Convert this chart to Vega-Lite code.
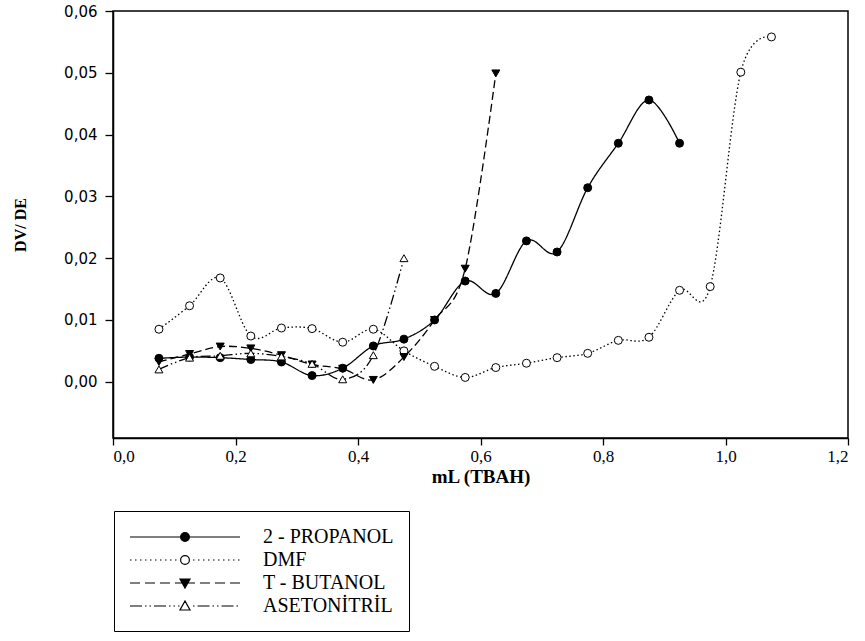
{
  "$schema": "https://vega.github.io/schema/vega-lite/v6.json",
  "autosize": {"type": "none"},
  "padding": {"left": 113, "top": 11, "right": 17, "bottom": 203},
  "width": 735,
  "height": 427,
  "background": "white",
  "config": {
    "view": {"stroke": "black", "strokeWidth": 1.5},
    "axis": {"grid": false, "domainColor": "black", "domainWidth": 1.5, "tickColor": "black", "tickWidth": 1.3, "labelColor": "black", "titleColor": "black"},
    "axisX": {"labelFont": "Liberation Serif", "titleFont": "Liberation Serif"},
    "axisY": {"labelFont": "DejaVu Sans", "titleFont": "Liberation Serif"}
  },
  "data": {
    "values": [
      {"solvent": "2 - PROPANOL", "ml": 0.075, "dvde": 0.0038},
      {"solvent": "2 - PROPANOL", "ml": 0.125, "dvde": 0.0040},
      {"solvent": "2 - PROPANOL", "ml": 0.175, "dvde": 0.0039},
      {"solvent": "2 - PROPANOL", "ml": 0.225, "dvde": 0.0036},
      {"solvent": "2 - PROPANOL", "ml": 0.275, "dvde": 0.0032},
      {"solvent": "2 - PROPANOL", "ml": 0.325, "dvde": 0.0010},
      {"solvent": "2 - PROPANOL", "ml": 0.375, "dvde": 0.0022},
      {"solvent": "2 - PROPANOL", "ml": 0.425, "dvde": 0.0058},
      {"solvent": "2 - PROPANOL", "ml": 0.475, "dvde": 0.0069},
      {"solvent": "2 - PROPANOL", "ml": 0.525, "dvde": 0.0100},
      {"solvent": "2 - PROPANOL", "ml": 0.575, "dvde": 0.0163},
      {"solvent": "2 - PROPANOL", "ml": 0.625, "dvde": 0.0143},
      {"solvent": "2 - PROPANOL", "ml": 0.675, "dvde": 0.0228},
      {"solvent": "2 - PROPANOL", "ml": 0.725, "dvde": 0.0210},
      {"solvent": "2 - PROPANOL", "ml": 0.775, "dvde": 0.0314},
      {"solvent": "2 - PROPANOL", "ml": 0.825, "dvde": 0.0386},
      {"solvent": "2 - PROPANOL", "ml": 0.875, "dvde": 0.0456},
      {"solvent": "2 - PROPANOL", "ml": 0.925, "dvde": 0.0386},
      {"solvent": "DMF", "ml": 0.075, "dvde": 0.0085},
      {"solvent": "DMF", "ml": 0.125, "dvde": 0.0123},
      {"solvent": "DMF", "ml": 0.175, "dvde": 0.0168},
      {"solvent": "DMF", "ml": 0.225, "dvde": 0.0074},
      {"solvent": "DMF", "ml": 0.275, "dvde": 0.0087},
      {"solvent": "DMF", "ml": 0.325, "dvde": 0.0086},
      {"solvent": "DMF", "ml": 0.375, "dvde": 0.0064},
      {"solvent": "DMF", "ml": 0.425, "dvde": 0.0085},
      {"solvent": "DMF", "ml": 0.475, "dvde": 0.0050},
      {"solvent": "DMF", "ml": 0.525, "dvde": 0.0025},
      {"solvent": "DMF", "ml": 0.575, "dvde": 0.0007},
      {"solvent": "DMF", "ml": 0.625, "dvde": 0.0023},
      {"solvent": "DMF", "ml": 0.675, "dvde": 0.0030},
      {"solvent": "DMF", "ml": 0.725, "dvde": 0.0039},
      {"solvent": "DMF", "ml": 0.775, "dvde": 0.0046},
      {"solvent": "DMF", "ml": 0.825, "dvde": 0.0067},
      {"solvent": "DMF", "ml": 0.875, "dvde": 0.0072},
      {"solvent": "DMF", "ml": 0.925, "dvde": 0.0148},
      {"solvent": "DMF", "ml": 0.975, "dvde": 0.0154},
      {"solvent": "DMF", "ml": 1.025, "dvde": 0.0501},
      {"solvent": "DMF", "ml": 1.075, "dvde": 0.0558},
      {"solvent": "T - BUTANOL", "ml": 0.075, "dvde": 0.0032},
      {"solvent": "T - BUTANOL", "ml": 0.125, "dvde": 0.0045},
      {"solvent": "T - BUTANOL", "ml": 0.175, "dvde": 0.0057},
      {"solvent": "T - BUTANOL", "ml": 0.225, "dvde": 0.0054},
      {"solvent": "T - BUTANOL", "ml": 0.275, "dvde": 0.0043},
      {"solvent": "T - BUTANOL", "ml": 0.325, "dvde": 0.0028},
      {"solvent": "T - BUTANOL", "ml": 0.375, "dvde": 0.0021},
      {"solvent": "T - BUTANOL", "ml": 0.425, "dvde": 0.0003},
      {"solvent": "T - BUTANOL", "ml": 0.475, "dvde": 0.0040},
      {"solvent": "T - BUTANOL", "ml": 0.525, "dvde": 0.0100},
      {"solvent": "T - BUTANOL", "ml": 0.575, "dvde": 0.0183},
      {"solvent": "T - BUTANOL", "ml": 0.625, "dvde": 0.0499},
      {"solvent": "ASETONİTRİL", "ml": 0.075, "dvde": 0.0020},
      {"solvent": "ASETONİTRİL", "ml": 0.125, "dvde": 0.0039},
      {"solvent": "ASETONİTRİL", "ml": 0.175, "dvde": 0.0042},
      {"solvent": "ASETONİTRİL", "ml": 0.225, "dvde": 0.0046},
      {"solvent": "ASETONİTRİL", "ml": 0.275, "dvde": 0.0041},
      {"solvent": "ASETONİTRİL", "ml": 0.325, "dvde": 0.0029},
      {"solvent": "ASETONİTRİL", "ml": 0.375, "dvde": 0.0004},
      {"solvent": "ASETONİTRİL", "ml": 0.425, "dvde": 0.0043},
      {"solvent": "ASETONİTRİL", "ml": 0.475, "dvde": 0.0200}
    ]
  },
  "encoding": {
    "x": {
      "field": "ml", "type": "quantitative",
      "scale": {"domain": [0, 1.2], "nice": false, "zero": false},
      "axis": {
        "values": [0, 0.2, 0.4, 0.6, 0.8, 1.0, 1.2],
        "labelExpr": "replace(format(datum.value, '.1f'), '.', ',')",
        "labelFont": "Liberation Serif", "labelFontSize": 17, "labelPadding": 3,
        "tickSize": 7, "title": "mL (TBAH)",
        "titleFont": "Liberation Serif", "titleFontSize": 19, "titleFontWeight": "bold", "titlePadding": 3
      }
    },
    "y": {
      "field": "dvde", "type": "quantitative",
      "scale": {"domain": [-0.0091, 0.06], "nice": false, "zero": false},
      "axis": {
        "values": [0, 0.01, 0.02, 0.03, 0.04, 0.05, 0.06],
        "labelExpr": "replace(format(datum.value, '.2f'), '.', ',')",
        "labelFont": "DejaVu Sans", "labelFontSize": 15, "labelPadding": 8,
        "tickSize": 8, "title": "DV/ DE",
        "titleFont": "Liberation Serif", "titleFontSize": 16, "titleFontWeight": "bold", "titlePadding": 35
      }
    }
  },
  "layer": [
    {
      "mark": {"type": "line", "interpolate": "cardinal", "color": "black", "strokeWidth": 1.3},
      "encoding": {
        "strokeDash": {
          "field": "solvent", "type": "nominal",
          "scale": {"range": [[1, 0], [10, 3, 1.5, 3, 1.5, 3], [1.5, 2.5], [8, 4]]},
          "legend": null
        }
      }
    },
    {
      "mark": {"type": "point", "filled": true, "stroke": "black", "strokeWidth": 1, "size": 64, "opacity": 1},
      "encoding": {
        "shape": {
          "field": "solvent", "type": "nominal",
          "scale": {"range": ["circle", "triangle-up", "circle", "triangle-down"]},
          "legend": null
        },
        "fill": {
          "field": "solvent", "type": "nominal",
          "scale": {
            "domain": ["2 - PROPANOL", "DMF", "T - BUTANOL", "ASETONİTRİL"],
            "range": ["black", "white", "black", "white"]
          },
          "legend": {
            "title": null,
            "orient": "none", "legendX": 1, "legendY": 500,
            "strokeColor": "black", "padding": 15,
            "labelFont": "Liberation Serif", "labelFontSize": 20, "labelColor": "black",
            "labelOffset": 112, "labelLimit": 300,
            "symbolSize": 400, "symbolStrokeWidth": 1.2, "symbolStrokeColor": "black",
            "symbolOpacity": 1, "rowPadding": 2,
            "encode": {
              "symbols": {
                "update": {
                  "shape": {"signal": "datum.value === '2 - PROPANOL' ? 'M-1,0H10M4.94,0A0.44,0.44 0 1,1 4.06,0A0.44,0.44 0 1,1 4.94,0Z' : datum.value === 'DMF' ? 'M-1,0H-0.85M-0.5,0H-0.35M0,0H0.15M0.5,0H0.65M1,0H1.15M1.5,0H1.65M2,0H2.15M2.5,0H2.65M3,0H3.15M3.5,0H3.65M5.3,0H5.45M5.8,0H5.95M6.3,0H6.45M6.8,0H6.95M7.3,0H7.45M7.8,0H7.95M8.3,0H8.45M8.8,0H8.95M9.3,0H9.45M9.8,0H9.95M4.94,0A0.44,0.44 0 1,1 4.06,0A0.44,0.44 0 1,1 4.94,0Z' : datum.value === 'T - BUTANOL' ? 'M-1,0H0M0.5,0H1.5M2,0H3M3.5,0H5.5M6,0H7M7.5,0H8.5M9,0H10M4,-0.4L5,-0.4L4.5,0.5Z' : 'M-1,0H0.2M0.5,0H0.65M0.95,0H1.1M1.4,0H2.6M2.9,0H3.05M3.35,0H3.5M3.8,0H3.95M5.3,0H5.45M5.75,0H6.95M7.25,0H7.4M7.7,0H7.85M8.15,0H9.35M9.65,0H9.8M4,0.4L5,0.4L4.5,-0.5Z'"},
                  "stroke": {"value": "black"}
                }
              }
            }
          }
        }
      }
    }
  ]
}
